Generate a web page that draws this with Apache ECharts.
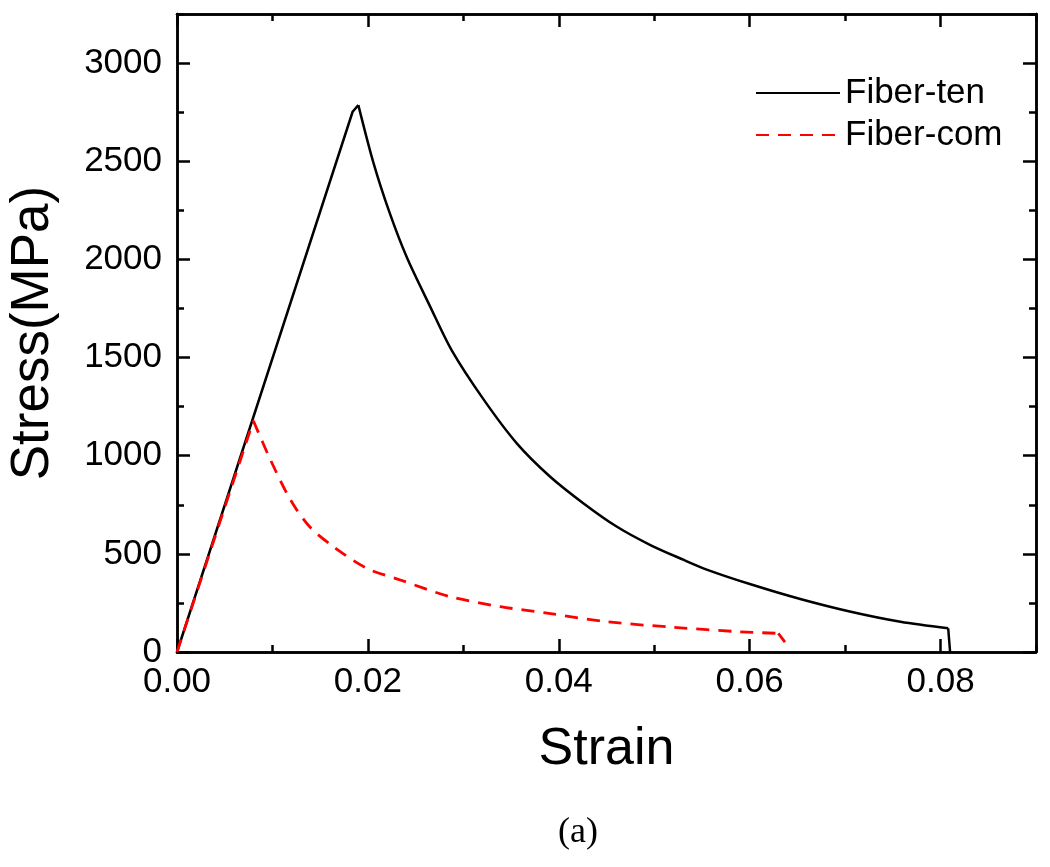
<!DOCTYPE html>
<html>
<head>
<meta charset="utf-8">
<script src="https://cdn.jsdelivr.net/npm/echarts@6/dist/echarts.min.js"></script>
<style>html,body{margin:0;padding:0;background:#fff;}#c{width:1050px;height:867px;}</style>
</head>
<body>
<div id="c"></div>
<script>
var xMajor = [0, 0.02, 0.04, 0.06, 0.08];
var xMinor = [0.01, 0.03, 0.05, 0.07, 0.09];
var yMajor = [0, 500, 1000, 1500, 2000, 2500, 3000];
var yMinor = [250, 750, 1250, 1750, 2250, 2750, 3250];

// Fiber-ten: linear rise, peak, softening branch, final drop
var tenRiseStrain = [0, 0.0184, 0.0190];
var tenRiseStress = [0, 2752, 2786];
var tenSoftStrain = [0.0190, 0.0206, 0.0223, 0.0241, 0.0265, 0.0288, 0.0321, 0.0356, 0.0391, 0.0426, 0.0461, 0.0496, 0.0531, 0.0555, 0.0601, 0.0653, 0.0706, 0.0758, 0.0808];
var tenSoftStress = [2786, 2489, 2234, 2008, 1762, 1535, 1288, 1063, 893, 757, 638, 545, 469, 420, 345, 270, 205, 154, 121];
var tenDropStrain = [0.0808, 0.0810];
var tenDropStress = [121, 0];

// Fiber-com
var comRiseStrain = [0, 0.0080];
var comRiseStress = [0, 1178];
var comSoftStrain = [0.0080, 0.0098, 0.0119, 0.0139, 0.0164, 0.0199, 0.0234, 0.0286, 0.0339, 0.0386, 0.0451, 0.0520, 0.0590, 0.0630];
var comSoftStress = [1178, 978, 774, 638, 536, 426, 367, 282, 231, 199, 154, 126, 103, 95];
var comDropStrain = [0.0630, 0.0637];
var comDropStress = [95, 50];

function pairs(xs, ys) { return xs.map(function (x, i) { return [x, ys[i]]; }); }
function withGap(a, b) { return a.concat(['-'], b); }

var FONT = '"Liberation Sans", Arial, sans-serif';
var lineStyle = { color: '#000', width: 2.5 };

function xAx(pos, ticks, len, labels) {
  return {
    type: 'value', position: pos, min: 0, max: 0.09,
    axisLine: { show: true, onZero: false, lineStyle: lineStyle },
    axisTick: { show: true, inside: true, length: len, customValues: ticks, lineStyle: lineStyle },
    axisLabel: labels ? { show: true, customValues: xMajor, margin: 13, color: '#000', fontSize: 35, fontFamily: FONT,
      formatter: function (v) { return v.toFixed(2); } } : { show: false },
    splitLine: { show: false },
    name: labels ? 'Strain' : '', nameLocation: 'middle', nameGap: 72,
    nameTextStyle: { color: '#000', fontSize: 52, fontFamily: FONT }
  };
}
function yAx(pos, ticks, len, labels) {
  return {
    type: 'value', position: pos, min: 0, max: 3250,
    axisLine: { show: true, onZero: false, lineStyle: lineStyle },
    axisTick: { show: true, inside: true, length: len, customValues: ticks, lineStyle: lineStyle },
    axisLabel: labels ? { show: true, customValues: yMajor, margin: 15, color: '#000', fontSize: 35, fontFamily: FONT,
      formatter: function (v) { return String(v); } } : { show: false },
    splitLine: { show: false },
    name: labels ? 'Stress(MPa)' : '', nameLocation: 'middle', nameGap: 117, nameRotate: 90,
    nameTextStyle: { color: '#000', fontSize: 53, fontFamily: FONT }
  };
}

var tenStyle = { color: '#000', width: 2.5 };
var comStyle = { color: '#ff0000', width: 2.8, type: [13, 9] };

var chart = echarts.init(document.getElementById('c'));
chart.setOption({
  animation: false,
  backgroundColor: '#fff',
  grid: { left: 177, right: 14, top: 14, bottom: 215, containLabel: false, outerBoundsMode: 'none' },
  xAxis: [
    xAx('bottom', xMajor, 13, true),
    xAx('bottom', xMinor, 7, false),
    xAx('top', xMajor, 13, false),
    xAx('top', xMinor, 7, false)
  ],
  yAxis: [
    yAx('left', yMajor, 13, true),
    yAx('left', yMinor, 7, false),
    yAx('right', yMajor, 13, false),
    yAx('right', yMinor, 7, false)
  ],
  legend: {
    orient: 'vertical', left: 750, top: 70,
    itemWidth: 84, itemHeight: 14, itemGap: 6,
    itemStyle: { opacity: 0 },
    textStyle: { color: '#000', fontSize: 35, fontFamily: FONT, lineHeight: 36, padding: [0, 0, 0, 0] },
    data: ['Fiber-ten', 'Fiber-com']
  },
  series: [
    { name: 'Fiber-ten', type: 'line', showSymbol: false, symbol: 'none', connectNulls: false,
      data: withGap(pairs(tenRiseStrain, tenRiseStress), pairs(tenDropStrain, tenDropStress)),
      lineStyle: tenStyle, itemStyle: { color: '#000' } },
    { name: 'Fiber-ten', type: 'line', showSymbol: false, symbol: 'none', smooth: 0.3,
      data: pairs(tenSoftStrain, tenSoftStress), lineStyle: tenStyle, itemStyle: { color: '#000' } },
    { name: 'Fiber-com', type: 'line', showSymbol: false, symbol: 'none', connectNulls: false,
      data: withGap(pairs(comRiseStrain, comRiseStress), pairs(comDropStrain, comDropStress)),
      lineStyle: comStyle, itemStyle: { color: '#ff0000' } },
    { name: 'Fiber-com', type: 'line', showSymbol: false, symbol: 'none', smooth: 0.3,
      data: pairs(comSoftStrain, comSoftStress), lineStyle: comStyle, itemStyle: { color: '#ff0000' } }
  ],
  graphic: [
    { type: 'text', left: 558, top: 815, style: { text: '(a)', fill: '#000', fontSize: 36, fontFamily: '"Liberation Serif", "Times New Roman", serif' } }
  ]
});
</script>
</body>
</html>
